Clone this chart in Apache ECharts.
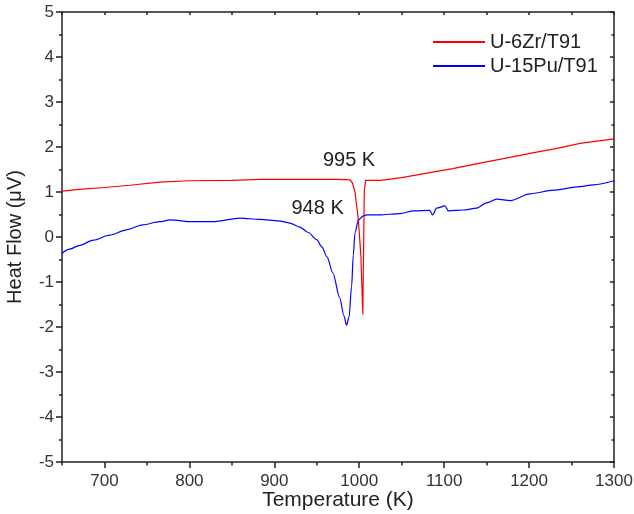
<!DOCTYPE html>
<html>
<head>
<meta charset="utf-8">
<script src="https://cdn.jsdelivr.net/npm/echarts@6/dist/echarts.min.js"></script>
<style>
  html, body { margin: 0; padding: 0; background: #fff; }
  #chart { width: 634px; height: 514px; }
</style>
</head>
<body>
<div id="chart"></div>
<script>
// U-6Zr/T91 (red)
const zrTemp = [650, 670, 700, 730, 765, 800, 850, 883, 920, 950, 975, 989, 992, 995, 999, 1002, 1004.2, 1005.3, 1006, 1007.6, 1015, 1025, 1050, 1083, 1110, 1142, 1170, 1201, 1230, 1260, 1280, 1300];
const zrFlow = [1.02, 1.06, 1.1, 1.15, 1.22, 1.25, 1.26, 1.28, 1.28, 1.28, 1.28, 1.27, 1.2, 1.0, 0.38, -0.44, -1.72, 0.0, 1.04, 1.26, 1.26, 1.26, 1.32, 1.43, 1.52, 1.64, 1.74, 1.86, 1.96, 2.08, 2.13, 2.18];

// U-15Pu/T91 (blue)
const puTemp = [650, 659, 670, 687, 706, 726, 745, 765, 777, 804, 828, 860, 883, 905, 918, 930, 940, 950, 956, 962, 969, 977, 982, 985, 988, 991, 993, 995, 999, 1005, 1009, 1024, 1048, 1064, 1083, 1086.6, 1091, 1101, 1105, 1123, 1138, 1150, 1162, 1178, 1201, 1229, 1260, 1276, 1300];
const puFlow = [-0.36, -0.27, -0.19, -0.07, 0.04, 0.16, 0.27, 0.34, 0.38, 0.34, 0.34, 0.42, 0.39, 0.36, 0.31, 0.22, 0.1, -0.06, -0.22, -0.44, -0.8, -1.35, -1.75, -1.96, -1.78, -1.1, -0.4, 0.09, 0.38, 0.47, 0.49, 0.49, 0.52, 0.58, 0.59, 0.49, 0.64, 0.69, 0.58, 0.6, 0.64, 0.76, 0.84, 0.81, 0.96, 1.04, 1.12, 1.16, 1.25];

const xLabels = [700, 800, 900, 1000, 1100, 1200, 1300];

const zrData = zrTemp.map((t, i) => [t, zrFlow[i]]);
const puData = puTemp.map((t, i) => [t, puFlow[i]]);

const chart = echarts.init(document.getElementById('chart'));
const axisColor = '#222';
const font = 'Liberation Sans, Arial, sans-serif';

chart.setOption({
  animation: false,
  textStyle: { fontFamily: font },
  grid: { left: 62, right: 20, top: 12, bottom: 52, outerBoundsMode: 'none', containLabel: false },
  legend: {
    orient: 'vertical',
    left: 428,
    top: 26,
    itemWidth: 52,
    itemHeight: 2,
    itemGap: 2,
    icon: 'rect',
    textStyle: { fontSize: 20, color: '#222', fontFamily: font, lineHeight: 22 },
    data: ['U-6Zr/T91', 'U-15Pu/T91']
  },
  xAxis: [
    {
      type: 'value', min: 650, max: 1300, interval: 50,
      name: 'Temperature (K)', nameLocation: 'middle', nameGap: 28, nameMoveOverlap: false,
      nameTextStyle: { fontSize: 21, color: axisColor },
      axisLine: { onZero: false, lineStyle: { color: axisColor, width: 1.5 } },
      axisTick: { show: true, length: 6, customValues: xLabels, lineStyle: { color: axisColor, width: 1.5 } },
      axisLabel: { customValues: xLabels, formatter: v => String(v), fontSize: 17, color: '#333', margin: 11 },
      splitLine: { show: false }
    },
    {
      type: 'value', min: 650, max: 1300, interval: 50, position: 'bottom',
      axisLine: { show: false, onZero: false },
      axisTick: { show: true, length: 3.5, lineStyle: { color: axisColor, width: 1.5 } },
      axisLabel: { show: false },
      splitLine: { show: false }
    },
    {
      type: 'value', min: 650, max: 1300, interval: 50, position: 'top',
      axisLine: { onZero: false, lineStyle: { color: axisColor, width: 1.5 } },
      axisTick: { show: true, inside: true, length: 3, lineStyle: { color: axisColor, width: 1.5 } },
      axisLabel: { show: false },
      splitLine: { show: false }
    }
  ],
  yAxis: [
    {
      type: 'value', min: -5, max: 5, interval: 1,
      name: 'Heat Flow (\u03bcV)', nameLocation: 'middle', nameGap: 37, nameMoveOverlap: false,
      nameTextStyle: { fontSize: 20, color: axisColor },
      axisLine: { show: true, onZero: false, lineStyle: { color: axisColor, width: 1.5 } },
      axisTick: { show: true, length: 6, lineStyle: { color: axisColor, width: 1.5 } },
      minorTick: { show: true, splitNumber: 2, length: 3, lineStyle: { color: axisColor, width: 1.5 } },
      axisLabel: { fontSize: 17, color: '#333', margin: 8 },
      splitLine: { show: false }
    },
    {
      type: 'value', min: -5, max: 5, interval: 1, position: 'right',
      axisLine: { show: true, onZero: false, lineStyle: { color: axisColor, width: 1.5 } },
      axisTick: { show: true, inside: true, length: 4, lineStyle: { color: axisColor, width: 1.5 } },
      minorTick: { show: true, splitNumber: 2, length: 2.5, lineStyle: { color: axisColor, width: 1.5 } },
      axisLabel: { show: false },
      splitLine: { show: false }
    }
  ],
  series: [
    {
      name: 'U-6Zr/T91', type: 'line', data: zrData,
      xAxisIndex: 0, yAxisIndex: 0,
      symbol: 'none', lineStyle: { color: '#ff0000', width: 1.2 }, itemStyle: { color: '#ff0000' },
      markPoint: {
        symbol: 'circle', symbolSize: 1, itemStyle: { color: 'rgba(0,0,0,0)' },
        label: { show: true, position: 'inside', formatter: '995 K', fontSize: 20, color: '#222' },
        data: [{ coord: [988, 1.69] }]
      }
    },
    {
      name: 'U-15Pu/T91', type: 'line', data: puData,
      xAxisIndex: 0, yAxisIndex: 0,
      symbol: 'none', smooth: 0.3, smoothMonotone: 'x',
      lineStyle: { color: '#0000ff', width: 1.2 }, itemStyle: { color: '#0000ff' },
      markPoint: {
        symbol: 'circle', symbolSize: 1, itemStyle: { color: 'rgba(0,0,0,0)' },
        label: { show: true, position: 'inside', formatter: '948 K', fontSize: 20, color: '#222' },
        data: [{ coord: [951, 0.64] }]
      }
    }
  ]
});
</script>
</body>
</html>
